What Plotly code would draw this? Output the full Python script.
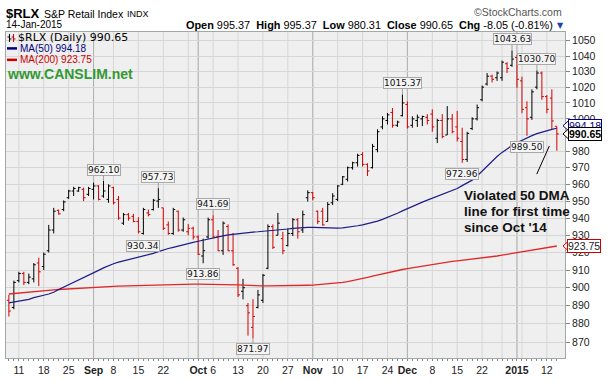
import numpy as np
import plotly.graph_objects as go

# ---------------- data ----------------
aug = [7, 8, 11, 12, 13, 14, 15, 18, 19, 20, 21, 22, 25, 26, 27, 28, 29]
sep = [2, 3, 4, 5, 8, 9, 10, 11, 12, 15, 16, 17, 18, 19, 22, 23, 24, 25, 26, 29, 30]
octo = [1, 2, 3, 6, 7, 8, 9, 10, 13, 14, 15, 16, 17, 20, 21, 22, 23, 24, 27, 28, 29, 30, 31]
nov = [3, 4, 5, 6, 7, 10, 11, 12, 13, 14, 17, 18, 19, 20, 21, 24, 25, 26, 28]
dec = [1, 2, 3, 4, 5, 8, 9, 10, 11, 12, 15, 16, 17, 18, 19, 22, 23, 24, 26, 29, 30, 31]
jan = [2, 5, 6, 7, 8, 9, 12, 13, 14]
dates = ([f"2014-08-{d:02d}" for d in aug] + [f"2014-09-{d:02d}" for d in sep] +
         [f"2014-10-{d:02d}" for d in octo] + [f"2014-11-{d:02d}" for d in nov] +
         [f"2014-12-{d:02d}" for d in dec] + [f"2015-01-{d:02d}" for d in jan])

opens = [893, 889, 904, 908, 903, 905, 914, 912, 921, 933, 944.5, 945, 952, 956, 956, 957, 954,
         957, 959, 953, 951, 958, 951, 937, 942, 941, 938, 931, 943, 945, 950, 946, 936, 931, 944,
         933, 932, 934, 929, 918, 929, 939, 929, 921, 935, 921, 911, 898, 890, 878, 889, 893, 911,
         935, 930, 928, 924, 931, 939, 933, 952, 955, 944, 944, 938, 949, 951, 960, 963, 970, 973,
         978, 972, 970, 981, 995, 999, 1004, 996, 1002, 1009, 996, 999, 1000, 1001, 1003, 988, 999,
         990, 1000, 995, 986, 975, 994, 1000, 1012, 1022, 1027, 1026, 1026, 1035, 1034, 1039, 1024,
         1007, 1001, 1020, 1029, 1014, 1013, 995.37]
highs = [896, 904, 909, 909, 908, 914, 917, 920, 936, 946, 945, 950.4, 956.7, 958.5, 958.5, 958,
         958.5, 961, 959.5, 962.10, 960, 958.5, 953, 943, 943, 942.5, 940.5, 946, 945, 951.3, 957.73,
         946, 938, 946, 944.4, 940.3, 936.5, 935, 930, 928, 940.3, 941.69, 933, 938, 936.3, 931.3,
         911.7, 905, 891.5, 893.6, 898.8, 907.8, 936.3, 936.3, 943, 932, 934, 940, 940, 944.4, 956.4,
         955.4, 944.4, 946, 949.4, 954.7, 959.5, 965, 970.7, 973.6, 978.5, 979.5, 972.7, 984.5, 993.5,
         1001.6, 1003.7, 1006.8, 998.9, 1015.37, 1011, 1001.6, 1002.7, 1002, 1003, 1006, 1000, 1003,
         1008, 1003, 1005, 994.5, 992, 1001, 1009, 1021, 1029, 1028, 1030, 1037, 1036, 1043.63,
         1040.7, 1026.7, 1011, 1018.6, 1030.70, 1030, 1015, 1018.6, 995.37]
lows = [884, 888, 903, 901.5, 902, 903, 901, 910, 920, 931, 942, 944, 951.3, 953, 955.5, 950, 953,
        951, 950.4, 952, 949, 948, 939, 936, 938.5, 937.5, 931, 930.34, 941, 944.4, 946, 933, 930.2,
        930.2, 932, 932, 930, 927.5, 918.6, 913.86, 928, 928.3, 920.8, 918.6, 920.8, 912.4, 894.8,
        893.5, 873.5, 871.97, 888.5, 891.5, 910.5, 922, 930, 919, 923.5, 929.5, 928, 931.3, 949.7,
        950.5, 936.5, 935.5, 938, 947.7, 950, 959.5, 961.7, 968.8, 970.7, 970.7, 965, 969.5, 979.4,
        993.5, 996.5, 994.5, 995, 1001.5, 994, 994.5, 995, 995.5, 996.5, 992, 985, 988, 990, 991,
        986, 972.96, 973.5, 993, 999, 1011, 1021, 1023, 1024, 1024, 1029, 1033, 1019.5, 1003.5,
        989.50, 999.4, 1018.6, 1012, 1003.5, 993.5, 980.31]
closes = [887, 903, 908, 903, 906, 913, 909, 919, 933, 944, 942.5, 949.5, 956, 957.5, 958, 952,
          957.5, 959, 951, 956, 959, 949, 940, 942, 940, 938, 932, 945, 942, 950.5, 951, 934, 931,
          945, 933, 939, 934, 929, 919, 921, 939, 929, 921, 937, 921, 913, 896, 900, 886, 884, 896,
          907, 935, 923, 937, 921, 931, 939, 932, 942, 955, 952, 938, 936, 948, 953, 959, 964.5, 970,
          973, 977.5, 972, 968, 983, 992, 1000, 1002.5, 996, 998, 1010, 995, 1000, 1001, 1001.5, 999,
          995, 999, 989, 1000, 992, 988, 975, 991, 1000, 1007, 1020, 1027, 1025, 1029, 1036, 1032,
          1038, 1025, 1006, 1000, 1017, 1029, 1014, 1006, 998.70, 990.65]

ma50 = [891.5, 892, 892.5, 893, 893.5, 894.5, 895, 895.8, 896.5, 897.5, 899,
        900.3, 901.8, 903, 904.3, 905.5, 906.8, 908.5, 909.8, 911.2, 912.5,
        913.6, 914.5, 915.2, 915.8, 916.5, 917.2, 917.8, 918.6, 919.5, 920.5,
        921.5, 922.3, 923, 923.6, 924.3, 925, 925.8, 926.5, 927.2, 927.8,
        928.5, 929, 929.6, 930.2, 930.6, 931, 931.3, 931.6, 931.8, 932,
        932.2, 932.4, 932.7, 933, 933.3, 933.6, 934, 934.3, 934.5, 934.6,
        934.6, 934.5, 934.2, 934, 934, 934.1, 934.3, 934.6, 935, 935.5,
        936, 936.6, 937.3, 938.2, 939.2, 940.3, 941.5, 942.8, 944.2, 945.6,
        946.9, 948.2, 949.4, 950.6, 951.8, 953, 954.2, 955.3, 956.4, 957.5,
        959.2, 960.8, 962.5, 965, 968, 971, 974, 976.8, 979.3, 981.6,
        983.5, 985.2, 986.8, 988.3, 989.6, 990.8, 991.8, 992.7, 993.5, 994.18]
ma200 = [896.5, 896.8, 897, 897.3, 897.5, 897.8, 898, 898.3, 898.5, 898.8, 899,
         899.2, 899.4, 899.6, 899.8, 900, 900.1, 900.3, 900.4, 900.6, 900.7,
         900.8, 900.9, 901, 901.1, 901.2, 901.3, 901.4, 901.5, 901.6, 901.7,
         901.7, 901.8, 901.8, 901.9, 901.9, 902, 902, 902, 902, 902,
         902, 902, 901.9, 901.8, 901.7, 901.6, 901.5, 901.3, 901.2, 901.1,
         901, 901, 901, 901, 901, 901.1, 901.1, 901.2, 901.3, 901.4,
         901.5, 901.7, 901.8, 902, 902.3, 902.6, 903, 903.4, 903.9, 904.5,
         905.1, 905.8, 906.5, 907.2, 907.9, 908.6, 909.2, 909.8, 910.3, 910.8,
         911.3, 911.8, 912.3, 912.8, 913.3, 913.7, 914.1, 914.5, 914.9, 915.2,
         915.5, 915.8, 916.1, 916.4, 916.7, 917.1, 917.5, 918, 918.5, 919,
         919.5, 920, 920.5, 921, 921.5, 922, 922.4, 922.8, 923.3, 923.75]

# x tick labels (weekly), month starts shown bold
week_dates = ["2014-08-11", "2014-08-18", "2014-08-25", "2014-09-02", "2014-09-08", "2014-09-15",
              "2014-09-22", "2014-09-29", "2014-10-01", "2014-10-06", "2014-10-13", "2014-10-20",
              "2014-10-27", "2014-11-03", "2014-11-10", "2014-11-17", "2014-11-24", "2014-12-01",
              "2014-12-08", "2014-12-15", "2014-12-22", "2014-12-29", "2015-01-02", "2015-01-05",
              "2015-01-12"]
week_labels = ["11", "18", "25", "<b>Sep</b>", "8", "15", "22", "", "<b>Oct</b>", "6", "13", "20",
               "27", "<b>Nov</b>", "10", "17", "24", "<b>Dec</b>", "8", "15", "22", "", "<b>2015</b>",
               "", "12"]
month_dates = ["2014-09-02", "2014-10-01", "2014-11-03", "2014-12-01", "2015-01-02"]

y_ticks = [870, 880, 890, 900, 910, 920, 930, 940, 950, 960, 970, 980, 990, 1000, 1010, 1020,
           1030, 1040, 1050]

# labelled highs / lows
mark_dates = ["2014-09-04", "2014-09-19", "2014-10-06", "2014-09-16", "2014-10-02", "2014-10-16",
              "2014-11-28", "2014-12-16", "2014-12-31", "2015-01-08", "2015-01-06"]
mark_values = [962.10, 957.73, 941.69, 930.34, 913.86, 871.97, 1015.37, 972.96, 1043.63, 1030.70,
               989.50]
mark_kind = ["high", "high", "high", "low", "low", "low", "high", "low", "high", "high", "low"]

note_lines = ["Violated 50 DMA", "line for first time", "since Oct '14"]

# ---------------- geometry helpers ----------------
W, H = 607, 381
ML, MR, MT, MB = 5, 42, 32, 21
PW, PH = W - ML - MR, H - MT - MB
Y_LO, Y_HI = 861.4, 1055.7


def px(x):
    return (x - ML) / PW


def py(y):
    return (H - MB - y) / PH


def yval_paper(v):
    return (np.log10(v) - np.log10(Y_LO)) / (np.log10(Y_HI) - np.log10(Y_LO))


FONT = "Liberation Sans, Arial, sans-serif"
VFONT = "DejaVu Sans, Verdana, sans-serif"
RED = "#d40000"

fig = go.Figure()

fig.add_trace(go.Scatter(x=dates, y=ma200, mode="lines", line=dict(color="#e02828", width=1.3),
                         hoverinfo="skip", showlegend=False))
fig.add_trace(go.Scatter(x=dates, y=ma50, mode="lines", line=dict(color="#1c1c88", width=1.2),
                         hoverinfo="skip", showlegend=False))

# color vs previous close
up = []
for i in range(len(closes)):
    prev = closes[i - 1] if i > 0 else opens[0]
    up.append(closes[i] >= prev)

for color, want in [("#000000", True), (RED, False)]:
    idx = [i for i in range(len(dates)) if up[i] == want]
    fig.add_trace(go.Ohlc(
        x=[dates[i] for i in idx],
        open=[opens[i] for i in idx], high=[highs[i] for i in idx],
        low=[lows[i] for i in idx], close=[closes[i] for i in idx],
        increasing=dict(line=dict(color=color, width=1)),
        decreasing=dict(line=dict(color=color, width=1)),
        tickwidth=0.4, hoverinfo="skip", showlegend=False))

ann = []
# labels on highs / lows
for d, v, k in zip(mark_dates, mark_values, mark_kind):
    ann.append(dict(x=d, y=np.log10(v), xref="x", yref="y", text=f"{v:.2f}",
                    showarrow=True, arrowhead=0, arrowwidth=1, arrowcolor="#a0a0a0",
                    ax=0, ay=-11 if k == "high" else 11, standoff=0,
                    font=dict(family=VFONT, size=9, color="#111"),
                    bgcolor="#f4f4f4", bordercolor="#a8a8a8", borderwidth=1, borderpad=0))

# header
ann += [
    dict(x=px(3), y=py(13), xref="paper", yref="paper", xanchor="left", yanchor="middle",
         text="<b>$RLX</b>", showarrow=False, font=dict(family=FONT, size=13, color="#000")),
    dict(x=px(41), y=py(13.5), xref="paper", yref="paper", xanchor="left", yanchor="middle",
         text="S&amp;P Retail Index", showarrow=False, font=dict(family=FONT, size=10.5, color="#000")),
    dict(x=px(124), y=py(13.5), xref="paper", yref="paper", xanchor="left", yanchor="middle",
         text="INDX", showarrow=False, font=dict(family=FONT, size=9, color="#000")),
    dict(x=px(3), y=py(24.5), xref="paper", yref="paper", xanchor="left", yanchor="middle",
         text="14-Jan-2015", showarrow=False, font=dict(family=FONT, size=10, color="#000")),
    dict(x=px(564), y=py(12), xref="paper", yref="paper", xanchor="right", yanchor="middle",
         text="\u00a9StockCharts.com", showarrow=False, font=dict(family=FONT, size=10.5, color="#555")),
]
chg = closes[-1] - closes[-2]
pct = chg / closes[-2] * 100
sp = "\u00a0"
hdr = (f"<b>Open</b> {opens[-1]:.2f}{sp}{sp}<b>High</b> {highs[-1]:.2f}{sp}{sp}<b>Low</b> "
       f"{lows[-1]:.2f}{sp}{sp}<b>Close</b> {closes[-1]:.2f}{sp}{sp}<b>Chg</b> {chg:.2f} ({pct:.2f}%)")
ann.append(dict(x=px(555), y=py(24.5), xref="paper", yref="paper", xanchor="right", yanchor="middle",
                text=hdr, showarrow=False, font=dict(family=FONT, size=10.9, color="#000")))
ann.append(dict(x=px(555), y=py(25), xref="paper", yref="paper", xanchor="left", yanchor="middle",
                text="\u25bc", showarrow=False, font=dict(family=VFONT, size=8, color="#2040b0")))

# legend inside plot
ann += [
    dict(x=px(15), y=py(37.5), xref="paper", yref="paper", xanchor="left", yanchor="middle",
         text=f"$RLX (Daily) {closes[-1]:.2f}", showarrow=False,
         font=dict(family=VFONT, size=11, color="#000")),
    dict(x=px(17), y=py(48.5), xref="paper", yref="paper", xanchor="left", yanchor="middle",
         text=f"MA(50) {ma50[-1]:.2f}", showarrow=False, font=dict(family=FONT, size=10, color="#000080")),
    dict(x=px(17), y=py(60), xref="paper", yref="paper", xanchor="left", yanchor="middle",
         text=f"MA(200) {ma200[-1]:.2f}", showarrow=False, font=dict(family=FONT, size=10, color="#cc0000")),
    dict(x=px(4), y=py(74.5), xref="paper", yref="paper", xanchor="left", yanchor="middle",
         text="<b>www.CANSLIM.net</b>", showarrow=False, font=dict(family=FONT, size=14, color="#339933")),
]
for k, (line, yy) in enumerate(zip(note_lines, [197, 213, 229])):
    ann.append(dict(x=px(462), y=py(yy), xref="paper", yref="paper", xanchor="left", yanchor="middle",
                    text=f"<b>{line}</b>", showarrow=False, font=dict(family=FONT, size=13.5, color="#111")))

# right-side value tags
ann += [
    dict(x=1, y=np.log10(ma50[-1]), xref="paper", yref="y", xanchor="left", yanchor="middle", xshift=3,
         yshift=2.5, text=f"{ma50[-1]:.2f}", showarrow=False, font=dict(family=FONT, size=10.5, color="#000080"),
         bgcolor="#ffffff", bordercolor="#000080", borderwidth=1, borderpad=0),
    dict(x=1, y=np.log10(closes[-1]), xref="paper", yref="y", xanchor="left", yanchor="middle", xshift=3,
         text=f"<b>{closes[-1]:.2f}</b>", showarrow=False, font=dict(family=FONT, size=10.5, color="#000"),
         bgcolor="#ffffff", bordercolor="#000000", borderwidth=1, borderpad=0),
    dict(x=1, y=np.log10(ma200[-1]), xref="paper", yref="y", xanchor="left", yanchor="middle", xshift=2,
         text=f"{ma200[-1]:.2f}", showarrow=False, font=dict(family=FONT, size=10.5, color="#222"),
         bgcolor="#ffffff", bordercolor="#cc0000", borderwidth=1, borderpad=0),
]

shapes = []
# weekly vertical gridlines and darker month lines
for d in week_dates:
    shapes.append(dict(type="line", xref="x", yref="paper", x0=d, x1=d, y0=0, y1=1,
                       line=dict(color="#d6d6d6", width=1), layer="below"))
for d in month_dates:
    shapes.append(dict(type="line", xref="x", yref="paper", x0=d, x1=d, y0=0, y1=1,
                       line=dict(color="#b0b0b0", width=1), layer="below"))

# annotation pointer line
shapes.append(dict(type="line", xref="paper", yref="paper", x0=px(536.7), y0=py(175),
                   x1=px(549.3), y1=py(146.7), line=dict(color="#000", width=1)))
# legend glyphs
shapes.append(dict(type="line", xref="paper", yref="paper", x0=px(6), x1=px(16), y0=py(48.5), y1=py(48.5),
                   line=dict(color="#000080", width=2.5)))
shapes.append(dict(type="line", xref="paper", yref="paper", x0=px(6), x1=px(16), y0=py(60), y1=py(60),
                   line=dict(color="#cc0000", width=2.5)))
for gx, gc in [(8.5, "#000"), (12.5, RED)]:
    shapes.append(dict(type="line", xref="paper", yref="paper", x0=px(gx), x1=px(gx), y0=py(34), y1=py(42),
                       line=dict(color=gc, width=1)))
    shapes.append(dict(type="line", xref="paper", yref="paper", x0=px(gx - 2), x1=px(gx), y0=py(37), y1=py(37),
                       line=dict(color=gc, width=1)))
    shapes.append(dict(type="line", xref="paper", yref="paper", x0=px(gx), x1=px(gx + 2), y0=py(39), y1=py(39),
                       line=dict(color=gc, width=1)))

# pointers for right tags
for v, col, shift in [(ma50[-1], "#000080", 2.5), (closes[-1], "#000000", 0), (ma200[-1], "#cc0000", 0)]:
    yc = yval_paper(v) + shift / PH
    shapes.append(dict(type="path", xref="paper", yref="paper",
                       path=f"M {px(563)} {yc} L {px(568.5)} {yc + 5 / PH} L {px(568.5)} {yc - 5 / PH} Z",
                       fillcolor="#ffffff", line=dict(color=col, width=1)))

fig.update_layout(
    width=W, height=H, margin=dict(l=ML, r=MR, t=MT, b=MB),
    paper_bgcolor="#ffffff", plot_bgcolor="#efefef",
    annotations=ann, shapes=shapes, showlegend=False,
    xaxis=dict(type="category", categoryorder="array", categoryarray=dates,
               range=[-0.58, 111.64], rangeslider=dict(visible=False),
               tickmode="array", tickvals=dates,
               ticktext=[week_labels[week_dates.index(d)] if d in week_dates else "" for d in dates],
               ticks="outside", ticklen=2, tickcolor="#888", showgrid=False,
               showline=True, linecolor="#a0a8a8", mirror=True, zeroline=False,
               tickfont=dict(family=FONT, size=10.5, color="#222")),
    yaxis=dict(type="log", side="right", range=[np.log10(Y_LO), np.log10(Y_HI)],
               tickmode="array", tickvals=y_ticks, ticktext=[str(t) for t in y_ticks],
               ticks="outside", ticklen=4, tickcolor="#888", showgrid=True, gridcolor="#d6d6d6",
               showline=True, linecolor="#a0a8a8", mirror=True, zeroline=False,
               tickfont=dict(family=FONT, size=10.5, color="#222")),
)

fig.write_html("out.html", config={"displayModeBar": False},
               post_script="document.body.style.margin='0';document.body.style.overflow='hidden';")
